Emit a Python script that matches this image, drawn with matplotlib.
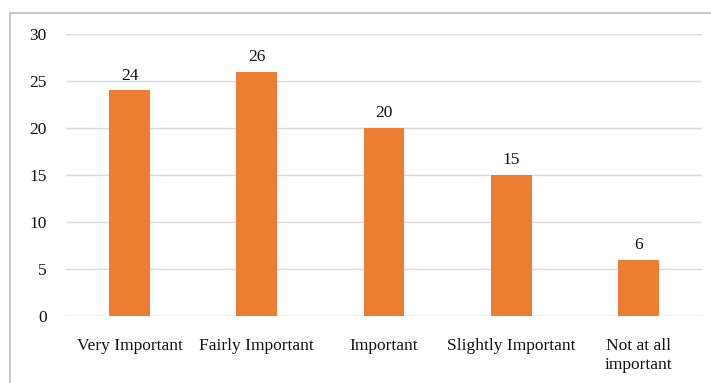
import matplotlib
matplotlib.use("Agg")
import matplotlib.pyplot as plt
from matplotlib.lines import Line2D

categories = ["Very Important", "Fairly Important", "Important", "Slightly Important", "Not at all\nimportant"]
values = [24, 26, 20, 15, 6]

plt.rcParams['font.family'] = ['Liberation Serif', 'DejaVu Serif']

fig = plt.figure(figsize=(7.11, 3.83), dpi=100)
ax = fig.add_axes([66/711, 1-316/383, (702-66)/711, (316-34)/383])

x = range(len(categories))
bars = ax.bar(x, values, width=0.32, color='#ED7D31', zorder=3)
for xi, v in zip(x, values):
    ax.text(xi, v + 0.7, str(v), ha='center', va='bottom', fontsize=12.5, color='#111111')

ax.set_xlim(-0.5, len(categories) - 0.5)
ax.set_ylim(0, 30)
ax.set_yticks(range(0, 31, 5))
ax.set_xticks(list(x))
ax.set_xticklabels(categories, fontsize=12.5, linespacing=1.25, color='#111111')
ax.tick_params(axis='both', length=0, labelsize=12.5, labelcolor='#111111')
ax.tick_params(axis='x', pad=16)
ax.tick_params(axis='y', pad=14)
ax.grid(axis='y', color='#D9D9D9', linewidth=1, zorder=0)
for s in ax.spines.values():
    s.set_visible(False)
ax.axhline(0, color='#D9D9D9', linewidth=1, zorder=2)

# outer chart border (top and left visible)
fig.add_artist(Line2D([10/711, 1], [1-13/383, 1-13/383], transform=fig.transFigure, color='#C8C8C8', linewidth=1.5))
fig.add_artist(Line2D([10/711, 10/711], [0, 1-13/383], transform=fig.transFigure, color='#C8C8C8', linewidth=1.5))

fig.savefig("out.png", dpi=100)
